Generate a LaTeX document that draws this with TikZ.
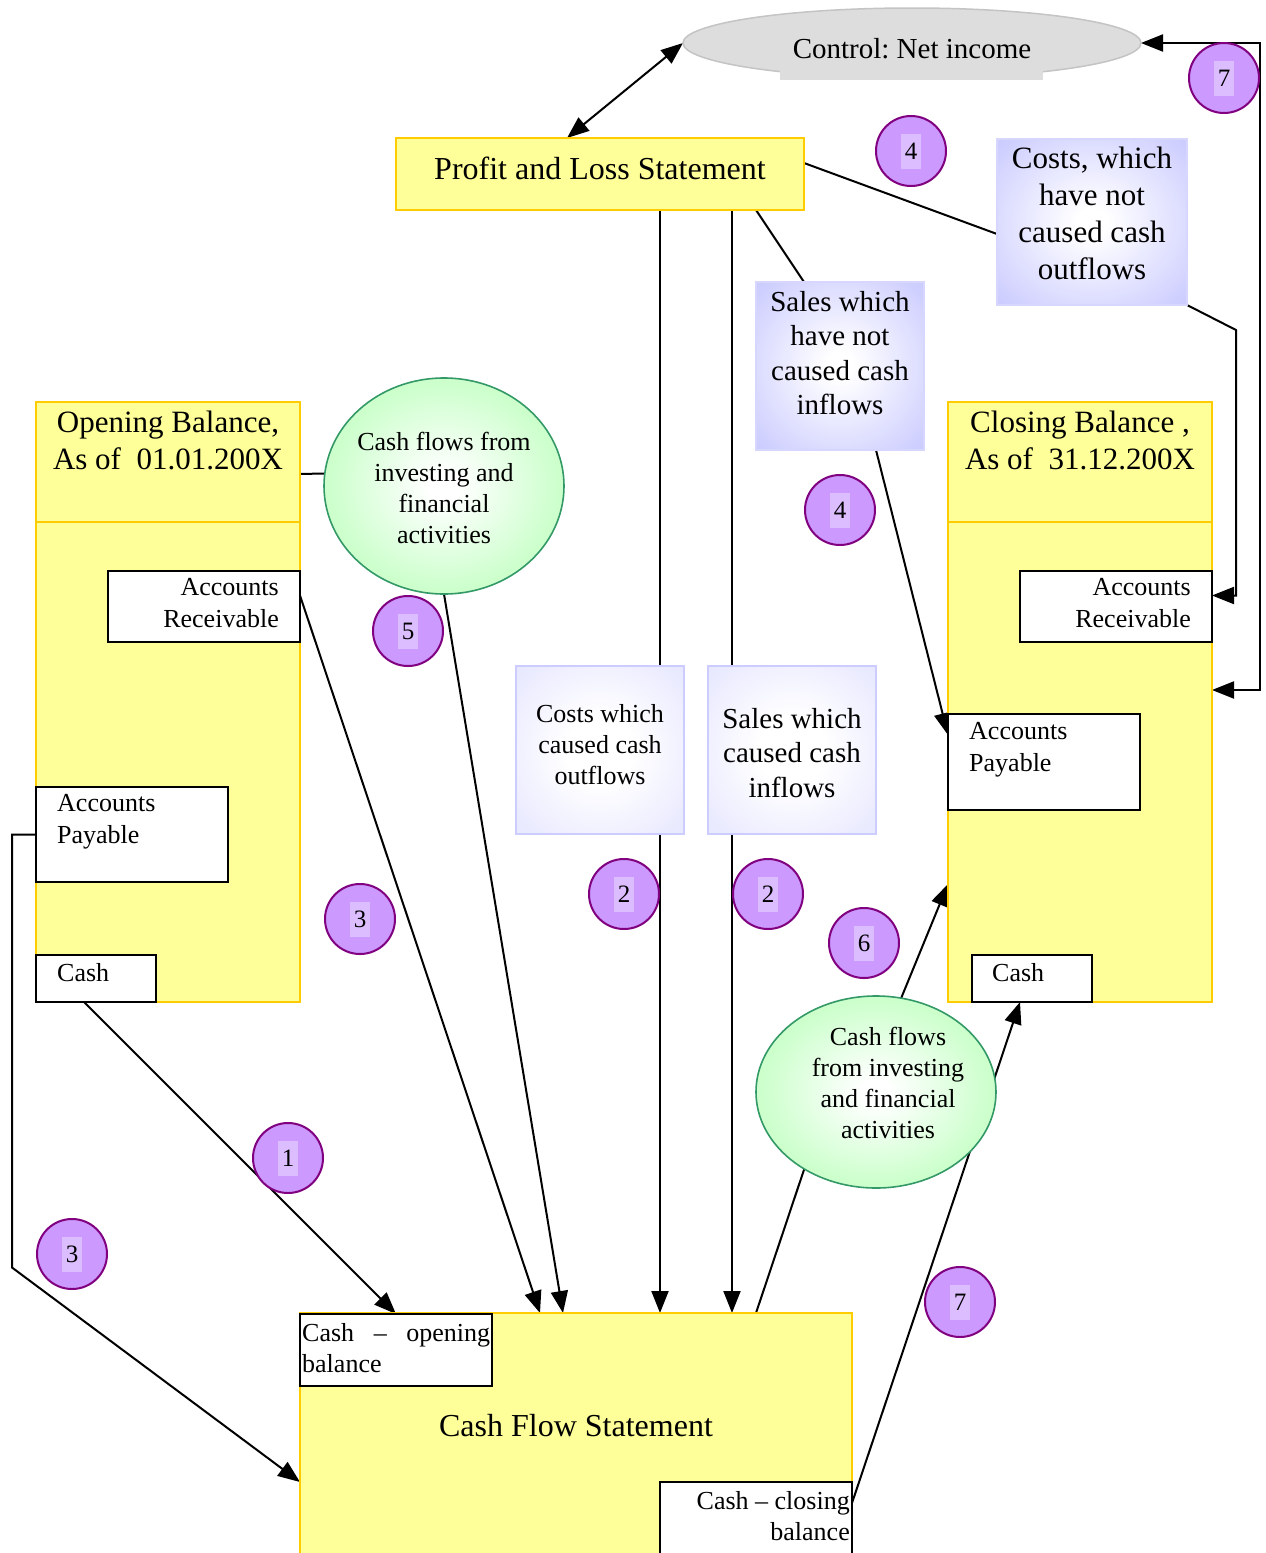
\documentclass[tikz,border=0pt]{standalone}
\usepackage{fontspec}
\setmainfont{Liberation Serif}
\usetikzlibrary{arrows.meta,calc,shapes.geometric,backgrounds}

\definecolor{paleyellow}{HTML}{FFFF99}
\definecolor{gold}{HTML}{FFCC00}
\definecolor{ctlgray}{HTML}{DDDDDD}
\definecolor{ctledge}{HTML}{C4C4C4}
\definecolor{violetfill}{HTML}{CC99FF}
\definecolor{violetedge}{HTML}{800080}
\definecolor{digitbg}{HTML}{DCBDFF}
\definecolor{periwinkle}{HTML}{CCCCFF}
\definecolor{periedge}{HTML}{D6D6FF}
\definecolor{lavender}{HTML}{E2E2FF}
\definecolor{lavedge}{HTML}{CCCCFF}
\definecolor{mint}{HTML}{CCFFCC}
\definecolor{mintedge}{HTML}{339966}

\pgfdeclareradialshading{periglow}{\pgfpoint{0bp}{0bp}}{color(0bp)=(white); color(4bp)=(white); color(34bp)=(periwinkle); color(50bp)=(periwinkle)}
\pgfdeclareradialshading{laveglow}{\pgfpoint{0bp}{0bp}}{color(0bp)=(white); color(10bp)=(white); color(40bp)=(lavender); color(50bp)=(lavender)}
\pgfdeclareradialshading{mintglow}{\pgfpoint{0bp}{0bp}}{color(0bp)=(white); color(3bp)=(white); color(24bp)=(mint); color(50bp)=(mint)}

\newcommand\fsz[2]{\fontsize{#1pt}{#2pt}\selectfont}
\newcommand\digitchip[1]{{\setlength{\fboxsep}{1pt}\colorbox{digitbg}{\hspace{3pt}\rule[-8pt]{0pt}{33pt}#1\hspace{3pt}}}}

\tikzset{
  ln/.style={line width=2pt, draw=black},
  arr/.style={ln, -{Triangle[length=22pt,width=17pt]}},
  dbl/.style={ln, {Triangle[length=22pt,width=17pt]}-{Triangle[length=22pt,width=17pt]}},
  sheet/.style={rectangle, draw=gold, fill=paleyellow, line width=2pt, inner sep=0pt, outer sep=0pt},
  ledger/.style={rectangle, draw=black, fill=white, line width=2.2pt, inner sep=0pt, outer sep=0pt},
  notbox/.style={rectangle, draw=periedge, line width=2pt, shade, shading=periglow, inner sep=0pt, outer sep=0pt},
  cashbox/.style={rectangle, draw=lavedge, line width=2pt, shade, shading=laveglow, inner sep=0pt, outer sep=0pt},
  flowblob/.style={ellipse, draw=mintedge, line width=1.6pt, shade, shading=mintglow, inner sep=0pt, outer sep=0pt},
  badge/.style={circle, draw=violetedge, fill=violetfill, line width=2pt, minimum size=70pt, inner sep=0pt, outer sep=0pt, font=\fsz{25}{30}},
  big/.style={inner sep=0pt, font=\fsz{32}{37}},
  title/.style={inner sep=0pt, align=center, font=\fsz{31}{37}},
  small/.style={inner sep=0pt, font=\fsz{26}{32}},
  blobtext/.style={inner sep=0pt, align=center, font=\fsz{26}{31}},
  midtext/.style={inner sep=0pt, align=center, font=\fsz{29}{34.5}},
}

\begin{document}
\frenchspacing
\begin{tikzpicture}[x=1pt,y=-1pt]
\useasboundingbox (0,0) rectangle (1266,1553);
\clip (0,0) rectangle (1266,1553);

% ---- control ellipse and profit and loss statement
\node[ellipse, draw=ctledge, fill=ctlgray, line width=1.5pt, minimum width=458pt, minimum height=70pt, inner sep=0pt, outer sep=0pt] (ctl) at (912,43) {};
\fill[ctlgray] ($(ctl.south)+(-132,-16)$) rectangle ($(ctl.south)+(131,2)$);
\node[anchor=base, inner sep=0pt, font=\fsz{29}{34}] (ctlt) at (912,58) {Control: Net income};

\node[sheet, minimum width=408pt, minimum height=72pt] (pl) at (600,174) {};
\node[big, anchor=base] (plt) at (600,179) {Profit and Loss Statement};

% ---- non-cash items
\node[notbox, minimum width=190pt, minimum height=166pt] (cnot) at (1092,222) {};
\node[title, anchor=north] (cnott) at (1092,147) {Costs, which\\have not\\caused cash\\outflows};
\node[notbox, minimum width=168pt, minimum height=168pt] (snot) at (840,366) {};
\node[midtext, anchor=north] (snott) at (840,291) {Sales which\\have not\\caused cash\\inflows};

% ---- opening balance
\node[sheet, minimum width=264pt, minimum height=600pt] (ob) at (168,702) {};
\draw[gold, line width=2pt] ($(ob.north west)+(0,120)$) -- ($(ob.north east)+(0,120)$);
\node[title, anchor=north] (obt) at (168,411) {Opening Balance,\\As of\ \ 01.01.200X};
\node[ledger, minimum width=192pt, minimum height=71pt] (oar) at (204,606.5) {};
\node[small, align=right, anchor=north east] (oart) at (279,578) {Accounts\\Receivable};
\node[ledger, minimum width=192pt, minimum height=95pt] (oap) at (132,834.5) {};
\node[small, align=left, anchor=north west] (oapt) at (57,794) {Accounts\\Payable};
\node[ledger, minimum width=120pt, minimum height=47pt] (ocash) at (96,978.5) {};
\node[small, anchor=base west] (ocasht) at (57,981) {Cash};

% ---- closing balance
\node[sheet, minimum width=264pt, minimum height=600pt] (cb) at (1080,702) {};
\draw[gold, line width=2pt] ($(cb.north west)+(0,120)$) -- ($(cb.north east)+(0,120)$);
\node[title, anchor=north] (cbt) at (1080,411) {Closing Balance ,\\As of\ \ 31.12.200X};
\node[ledger, minimum width=192pt, minimum height=71pt] (car) at (1116,606.5) {};
\node[small, align=right, anchor=north east] (cart) at (1191,578) {Accounts\\Receivable};
\node[ledger, minimum width=192pt, minimum height=96pt] (cap) at (1044,762) {};
\node[small, align=left, anchor=north west] (capt) at (969,722) {Accounts\\Payable};
\node[ledger, minimum width=120pt, minimum height=47pt] (ccash) at (1032,978.5) {};
\node[small, anchor=base west] (ccasht) at (992,981) {Cash};

% ---- cash items of the period
\node[cashbox, minimum width=168pt, minimum height=168pt] (cin) at (600,750) {};
\node[blobtext, anchor=north] (cint) at (600,704) {Costs which\\caused cash\\outflows};
\node[cashbox, minimum width=168pt, minimum height=168pt] (sin) at (792,750) {};
\node[midtext, anchor=north] (sint) at (792,708) {Sales which\\caused cash\\inflows};

% ---- investing and financing flows
\node[flowblob, minimum width=240pt, minimum height=216pt] (gl) at (444,486) {};
\node[blobtext, anchor=north] (glt) at (444,432) {Cash flows from\\investing and\\financial\\activities};
\node[flowblob, minimum width=240pt, minimum height=192pt] (gr) at (876,1092) {};
\node[blobtext, anchor=north] (grt) at (888,1027) {Cash flows\\from investing\\and financial\\activities};

% ---- cash flow statement
\node[sheet, minimum width=552pt, minimum height=254pt] (cfs) at (576,1440) {};
\node[big, anchor=base] (cfst) at (576,1436) {Cash Flow Statement};
\node[ledger, minimum width=192pt, minimum height=72pt] (cop) at (396,1350) {};
\node[small, font=\fsz{26}{31}, text width=188pt, align=left, anchor=north west] (copt) at (302,1323) {Cash\hfill–\hfill opening\\balance};
\node[ledger, minimum width=192pt, minimum height=82pt] (ccl) at (756,1523) {};
\node[small, font=\fsz{26}{31}, align=right, anchor=north east] (cclt) at (850,1491) {Cash – closing\\balance};

% ---- step numbers
\node[badge] (n7a) at (1224,78) {\digitchip{7}};
\node[badge] (n4a) at (911,151) {\digitchip{4}};
\node[badge] (n4b) at (840,510) {\digitchip{4}};
\node[badge] (n5) at (408,631) {\digitchip{5}};
\node[badge] (n2a) at (624,894) {\digitchip{2}};
\node[badge] (n2b) at (768,894) {\digitchip{2}};
\node[badge] (n6) at (864,943) {\digitchip{6}};
\node[badge] (n3a) at (360,919) {\digitchip{3}};
\node[badge] (n1) at (288,1158) {\digitchip{1}};
\node[badge] (n3b) at (72,1254) {\digitchip{3}};
\node[badge] (n7b) at (960,1302) {\digitchip{7}};

% ---- connectors, kept underneath the boxes
\begin{pgfonlayer}{background}
\fill[white] (0,0) rectangle (1266,1553);
\draw[dbl] ($(pl.north west)+(171,0)$) -- (ctl.west);
\draw[ln] ($(pl.north east)+(0,25)$) -- ($(cnot.north west)+(0,95)$);
\draw[arr] (cnot.south east) -- ++(49,25) |- ($(car.east)+(0,-11)$);
\draw[dbl] (ctl.east) -- ++(119,0) |- ($(cb.north east)+(0,288)$);
\draw[ln] ($(pl.south west)+(360,0)$) -- ($(snot.north west)+(48,0)$);
\draw[arr] ($(snot.south west)+(120,0)$) -- ($(cap.north west)+(0,21)$);
\draw[arr] ($(pl.south west)+(264,0)$) -- ($(cfs.north west)+(360,0)$);
\draw[arr] ($(pl.south west)+(336,0)$) -- ($(cfs.north west)+(432,0)$);
\draw[arr] ($(oar.east)+(0,-11)$) -- ($(cfs.north west)+(240,0)$);
\draw[arr] (gl.south) -- ($(cfs.north west)+(263,0)$);
\draw[ln] ($(ob.north east)+(0,72)$) -- (gl.174);
\draw[arr] ($(ocash.south)+(-12,0)$) -- (cop.north);
\draw[arr] (oap.west) -- ++(-24,0) -- ++(0,433) -- ($(cfs.north west)+(0,169)$);
\draw[ln] ($(cfs.north west)+(456,0)$) -- (gr.227);
\draw[arr] (gr.75) -- ($(cb.north west)+(0,482)$);
\draw[arr] ($(ccl.north east)+(0,21)$) -- ($(ccash.south)+(-12,0)$);
\end{pgfonlayer}
\end{tikzpicture}
\end{document}
